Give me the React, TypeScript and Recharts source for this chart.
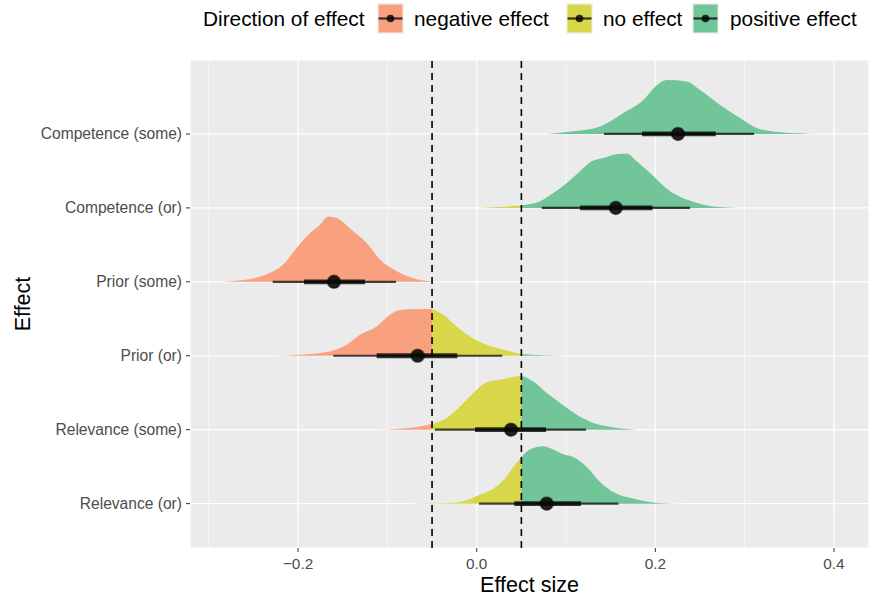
import {
  ComposedChart,
  Area,
  Line,
  Scatter,
  XAxis,
  YAxis,
  CartesianGrid,
  ReferenceLine,
  Label,
} from "recharts";

const categories = [
  "Relevance (or)",
  "Relevance (some)",
  "Prior (or)",
  "Prior (some)",
  "Competence (or)",
  "Competence (some)",
];

// slab outlines: [effect size, slab height in rows]
const relevanceOr: [number, number][] = [
  [-0.0747, 0], [-0.05, 0.004], [-0.0299, 0.009], [-0.0112, 0.045], [0.0037, 0.122],
  [0.0186, 0.203], [0.0298, 0.315], [0.041, 0.497], [0.05, 0.632], [0.0597, 0.731],
  [0.0746, 0.775], [0.0858, 0.731], [0.097, 0.667], [0.1082, 0.632], [0.1232, 0.497],
  [0.1381, 0.294], [0.153, 0.158], [0.1754, 0.068], [0.2016, 0.009], [0.2314, 0],
];
const relevanceSome: [number, number][] = [
  [-0.1158, 0], [-0.0859, 0.013], [-0.0635, 0.044], [-0.05, 0.077], [-0.0336, 0.158],
  [-0.0187, 0.314], [-0.0038, 0.495], [0.0112, 0.643], [0.0261, 0.674], [0.0373, 0.705],
  [0.05, 0.732], [0.0634, 0.651], [0.0784, 0.495], [0.0933, 0.36], [0.112, 0.202],
  [0.1306, 0.09], [0.153, 0.031], [0.1754, 0.004], [0.1829, 0],
];
const priorOr: [number, number][] = [
  [-0.2315, 0], [-0.1979, 0.013], [-0.1643, 0.058], [-0.1456, 0.148], [-0.1307, 0.283],
  [-0.112, 0.395], [-0.0971, 0.553], [-0.0859, 0.62], [-0.0672, 0.633], [-0.05, 0.633],
  [-0.0374, 0.553], [-0.0224, 0.395], [-0.0075, 0.26], [0.0112, 0.148], [0.0298, 0.081],
  [0.05, 0.023], [0.0765, 0.007], [0.097, 0],
];
const priorSome: [number, number][] = [
  [-0.2912, 0], [-0.2763, 0.009], [-0.2502, 0.044], [-0.2315, 0.121], [-0.2166, 0.233],
  [-0.2016, 0.458], [-0.1904, 0.616], [-0.1755, 0.772], [-0.1662, 0.885], [-0.1568, 0.863],
  [-0.1382, 0.683], [-0.1232, 0.526], [-0.1083, 0.301], [-0.0896, 0.144], [-0.0747, 0.063],
  [-0.0598, 0.018], [-0.05, 0.004], [-0.035, 0],
];
const competenceOr: [number, number][] = [
  [0, 0], [0.025, 0.012], [0.05, 0.036], [0.0709, 0.09], [0.0858, 0.202],
  [0.1008, 0.337], [0.1157, 0.495], [0.1269, 0.616], [0.1418, 0.674], [0.1605, 0.732],
  [0.168, 0.732], [0.1792, 0.629], [0.1941, 0.472], [0.2165, 0.225], [0.2352, 0.112],
  [0.2538, 0.044], [0.2761, 0.009], [0.2949, 0],
];
const competenceSome: [number, number][] = [
  [0.0787, 0], [0.1082, 0.035], [0.1381, 0.102], [0.1642, 0.283], [0.1866, 0.458],
  [0.2016, 0.66], [0.2128, 0.728], [0.2352, 0.709], [0.2501, 0.593], [0.2725, 0.391],
  [0.2949, 0.216], [0.3135, 0.081], [0.3396, 0.022], [0.3807, 0],
];

const densities = [relevanceOr, relevanceSome, priorOr, priorSome, competenceOr, competenceSome];

// point + interval summaries (same order as categories)
const medians = [0.0784, 0.0384, -0.0661, -0.1598, 0.1557, 0.2254];
const outerLo = [0.0026, -0.0467, -0.1606, -0.2284, 0.0728, 0.1426];
const outerHi = [0.1586, 0.1224, 0.0287, -0.0904, 0.2389, 0.3105];
const innerLo = [0.0421, -0.0019, -0.112, -0.1934, 0.1157, 0.1851];
const innerHi = [0.1168, 0.0776, -0.0217, -0.1251, 0.1967, 0.2676];

const directions = ["negative effect", "no effect", "positive effect"];
const directionColors = ["#F9A07F", "#D8D74A", "#71C598"];
const ropeLimits = [-0.05, 0.05];

const xMajorTicks = [-0.2, 0, 0.2, 0.4];
const xMinorTicks = [-0.3, -0.1, 0.1, 0.3];

const regions = [
  [-Infinity, ropeLimits[0]],
  [ropeLimits[0], ropeLimits[1]],
  [ropeLimits[1], Infinity],
];

function slabPieces(points: [number, number][], pos: number) {
  return regions.map(([lo, hi]) =>
    points
      .filter(([x]) => x >= lo - 1e-9 && x <= hi + 1e-9)
      .map(([x, h]) => ({ x, y: [pos, pos + h] }))
  );
}

const fmt = (v: number) => (v < 0 ? "\u2212" + Math.abs(v).toFixed(1) : v.toFixed(1));

const XTitle = ({ viewBox }: any) => (
  <text
    x={viewBox.x + viewBox.width / 2}
    y={viewBox.y + 44}
    textAnchor="middle"
    fontSize={21.5}
    fill="#000"
  >
    Effect size
  </text>
);

const YTitle = ({ viewBox }: any) => {
  const cx = viewBox.x + 30;
  const cy = viewBox.y + viewBox.height / 2;
  return (
    <text
      x={cx}
      y={cy}
      transform={`rotate(-90 ${cx} ${cy})`}
      textAnchor="middle"
      fontSize={21.5}
      fill="#000"
    >
      Effect
    </text>
  );
};

function LegendKey({ color }: { color: string }) {
  return (
    <svg width={27} height={31} style={{ display: "block" }}>
      <rect x={0} y={0} width={27} height={31} fill="#F2F2F2" />
      <rect x={1.5} y={1.5} width={24} height={28} fill={color} />
      <line x1={1.5} x2={25.5} y1={15.5} y2={15.5} stroke="#000" strokeOpacity={0.75} strokeWidth={2.2} />
      <circle cx={13.5} cy={15.5} r={3.8} fill="#000" fillOpacity={0.8} />
    </svg>
  );
}

const legendKeyLeft = [377, 566, 692];
const legendLabelLeft = [414, 603, 730];
const legendMid = 18.5;

export default function App() {
  return (
    <div
      style={{
        position: "absolute",
        left: 0,
        top: 0,
        width: 875,
        height: 603,
        background: "#fff",
        fontFamily: "'Liberation Sans', Arial, sans-serif",
      }}
    >
      <div style={{ position: "absolute", left: 203, top: legendMid, transform: "translateY(-50%)", fontSize: 20.8, color: "#000", whiteSpace: "nowrap" }}>
        Direction of effect
      </div>
      {directions.map((d, i) => (
        <div key={d}>
          <div style={{ position: "absolute", left: legendKeyLeft[i], top: legendMid - 15.5 }}>
            <LegendKey color={directionColors[i]} />
          </div>
          <div
            style={{
              position: "absolute",
              left: legendLabelLeft[i],
              top: legendMid,
              transform: "translateY(-50%)",
              fontSize: 20.8,
              color: "#000",
              whiteSpace: "nowrap",
            }}
          >
            {d}
          </div>
        </div>
      ))}

      <ComposedChart width={875} height={603} margin={{ top: 60, right: 6, bottom: 0, left: 0 }}>
        <CartesianGrid fill="#EBEBEB" stroke="#FFFFFF" strokeWidth={1.2} />
        <CartesianGrid xAxisId="minor" horizontal={false} stroke="#FFFFFF" strokeWidth={0.6} />
        <XAxis
          dataKey="x"
          type="number"
          domain={[-0.321, 0.4392]}
          allowDataOverflow
          ticks={xMajorTicks}
          tickFormatter={fmt}
          axisLine={false}
          tickLine={{ stroke: "#333333" }}
          tickSize={4}
          tickMargin={6}
          height={55}
          tick={{ fontSize: 15.4, fill: "#4D4D4D" }}
          label={<Label content={XTitle} />}
        />
        <XAxis
          xAxisId="minor"
          dataKey="x"
          type="number"
          domain={[-0.321, 0.4392]}
          allowDataOverflow
          ticks={xMinorTicks}
          hide
        />
        <YAxis
          dataKey="y"
          type="number"
          domain={[0.4, 7.0]}
          allowDataOverflow
          ticks={categories.map((_, i) => i + 1)}
          tickFormatter={(v: number) => categories[v - 1] ?? ""}
          axisLine={false}
          tickLine={{ stroke: "#333333" }}
          tickSize={4}
          tickMargin={4}
          width={190}
          tick={{ fontSize: 15.6, fill: "#4D4D4D" }}
          label={<Label content={YTitle} />}
        />

        {densities.map((pts, i) =>
          slabPieces(pts, i + 1).map((piece, r) =>
            piece.length < 2 ? null : (
              <Area
                key={`slab-${i}-${r}`}
                data={piece}
                dataKey="y"
                type="monotone"
                fill={directionColors[r]}
                fillOpacity={1}
                stroke="none"
                dot={false}
                activeDot={false}
                isAnimationActive={false}
              />
            )
          )
        )}

        {ropeLimits.map((v) => (
          <ReferenceLine key={`rope-${v}`} x={v} stroke="#000" strokeWidth={1.6} strokeDasharray="7 5" />
        ))}

        {categories.map((c, i) => (
          <Line
            key={`outer-${c}`}
            data={[
              { x: outerLo[i], y: i + 1 },
              { x: outerHi[i], y: i + 1 },
            ]}
            dataKey="y"
            stroke="#000"
            strokeOpacity={0.72}
            strokeWidth={2.2}
            dot={false}
            activeDot={false}
            isAnimationActive={false}
          />
        ))}
        {categories.map((c, i) => (
          <Line
            key={`inner-${c}`}
            data={[
              { x: innerLo[i], y: i + 1 },
              { x: innerHi[i], y: i + 1 },
            ]}
            dataKey="y"
            stroke="#000"
            strokeOpacity={0.78}
            strokeWidth={4.8}
            dot={false}
            activeDot={false}
            isAnimationActive={false}
          />
        ))}
        <Scatter
          data={categories.map((_, i) => ({ x: medians[i], y: i + 1 }))}
          dataKey="y"
          isAnimationActive={false}
          shape={(p: any) => (
            <circle cx={p.cx} cy={p.cy} r={6.5} fill="#0A0A0A" fillOpacity={0.9} stroke="#000" strokeOpacity={0.45} strokeWidth={1.6} />
          )}
        />
      </ComposedChart>
    </div>
  );
}
